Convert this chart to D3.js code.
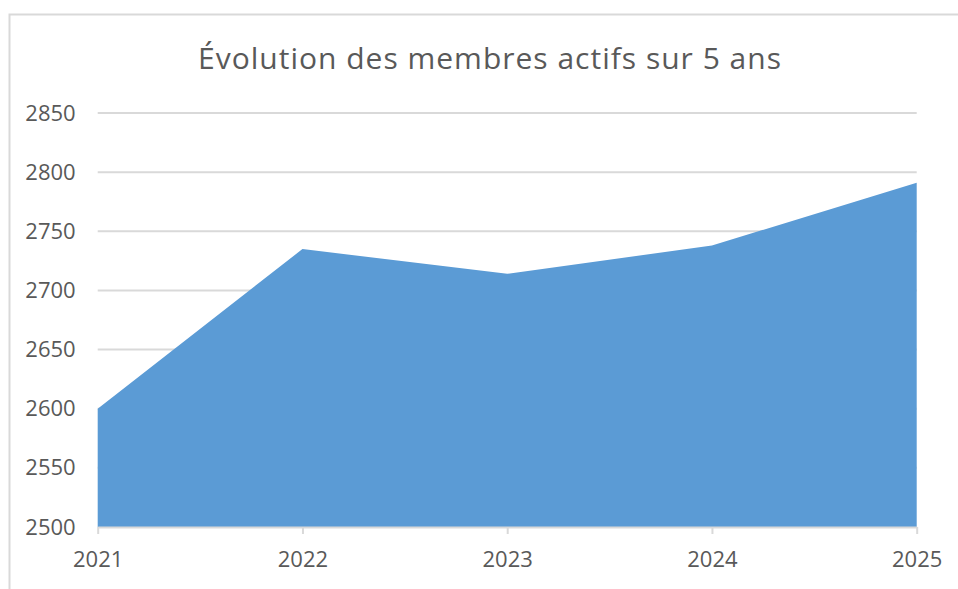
<!DOCTYPE html>
<html lang="fr">
<head>
<meta charset="UTF-8">
<script src="https://d3js.org/d3.v7.min.js"></script>
<title>Évolution des membres actifs</title>
<style>
  body { margin: 0; background: #fff; }
  svg text { font-family: "Open Sans", "Noto Sans", sans-serif; fill: #595959; }
</style>
</head>
<body>
<svg id="chart" width="958" height="589"></svg>
<script>
// données
const years = ["2021", "2022", "2023", "2024", "2025"];
const members = [2600, 2735, 2714, 2738, 2791];
const yTicks = [2500, 2550, 2600, 2650, 2700, 2750, 2800, 2850];
const title = "Évolution des membres actifs sur 5 ans";

const svg = d3.select("#chart");

// cadre du graphique (coupé à droite et en bas)
svg.append("rect")
  .attr("x", 9.5).attr("y", 14.5)
  .attr("width", 1000).attr("height", 1000)
  .attr("fill", "none")
  .attr("stroke", "#d9d9d9")
  .attr("stroke-width", 2);

const plotLeft = 97.7, plotRight = 916.7, plotTop = 113, plotBottom = 527;

const x = d3.scalePoint().domain(years).range([plotLeft, plotRight]);
const y = d3.scaleLinear().domain([2500, 2850]).range([plotBottom, plotTop]);

// quadrillage
svg.append("g")
  .selectAll("line")
  .data(yTicks.filter(d => d > 2500))
  .enter()
  .append("line")
  .attr("x1", plotLeft).attr("x2", plotRight)
  .attr("y1", d => y(d)).attr("y2", d => y(d))
  .attr("stroke", "#d9d9d9")
  .attr("stroke-width", 2);

// aire
const area = d3.area()
  .x((d, i) => x(years[i]))
  .y0(y(2500))
  .y1(d => y(d));

svg.append("path")
  .datum(members)
  .attr("d", area)
  .attr("fill", "#5b9bd5");

// axe des x
const xAxis = svg.append("g")
  .attr("transform", "translate(0," + plotBottom + ")")
  .call(d3.axisBottom(x).tickSize(7).tickSizeOuter(0));
xAxis.select(".domain").attr("stroke", "#d9d9d9").attr("stroke-width", 2);
xAxis.selectAll(".tick line").attr("stroke", "#d9d9d9").attr("stroke-width", 2);
xAxis.selectAll(".tick text")
  .attr("fill", "#595959")
  .style("font-size", "22px")
  .attr("y", 40).attr("dy", null);

// axe des y
const yAxis = svg.append("g")
  .attr("transform", "translate(" + plotLeft + ",0)")
  .call(d3.axisLeft(y).tickValues(yTicks).tickFormat(d3.format("d")).tickSize(0).tickPadding(22));
yAxis.select(".domain").remove();
yAxis.selectAll(".tick text")
  .attr("fill", "#595959")
  .style("font-size", "22px");

// titre
svg.append("text")
  .attr("x", 490)
  .attr("y", 69)
  .attr("text-anchor", "middle")
  .style("font-size", "30px")
  .style("letter-spacing", "1px")
  .text(title);
</script>
</body>
</html>
